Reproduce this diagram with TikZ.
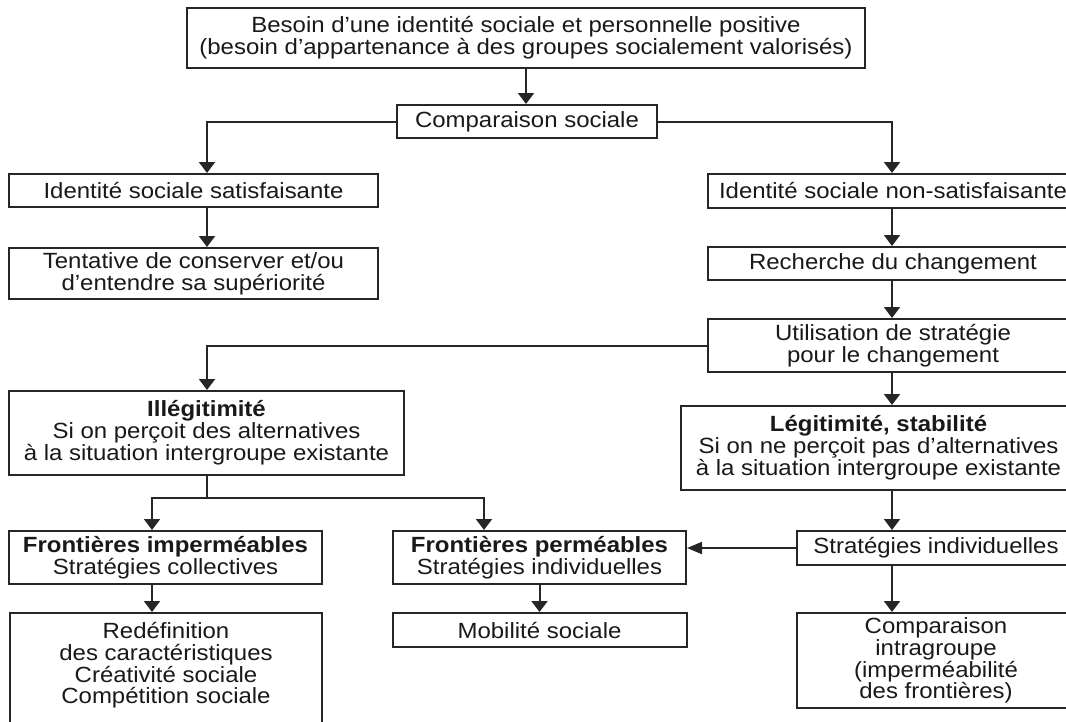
\documentclass[tikz,border=0pt]{standalone}
\usepackage{fontspec}
\setmainfont{Liberation Sans}[FakeStretch=1.09]
\usetikzlibrary{arrows.meta}
\tikzset{basic/.style={draw=black!85,line width=2pt,fill=white,
                       text=black!90,align=center,inner sep=0pt}}
\tikzset{boxsize/.style 2 args={minimum width=#1pt,minimum height=#2pt}}
\tikzset{link/.style={draw=black!85,line width=2pt,-{Triangle[length=11pt,width=16pt]}}}
\tikzset{hlink/.style={link,-{Triangle[length=15pt,width=12pt]}}}
\tikzset{plain/.style={draw=black!85,line width=2pt}}

\begin{document}
\begin{tikzpicture}[x=1pt,y=-1pt,font=\fontsize{22pt}{21.8pt}\selectfont]

    \useasboundingbox (0,0) rectangle (1066,721);
    \clip (0,0) rectangle (1066,721);

    % columns of the arrows
    \coordinate (lc) at (207,0);
    \coordinate (rc) at (892,0);
    \coordinate (bl) at (152,0);
    \coordinate (br) at (484,0);

    % top
    \node[basic,boxsize={678}{60}] (need) at (526,38)
        {Besoin d'une identité sociale et personnelle positive\\(besoin d'appartenance à des groupes socialement valorisés)};
    \node[basic,boxsize={260}{33}] (comp) at (527,121.5) {Comparaison sociale};

    % left column
    \node[basic,boxsize={369}{33}] (satis) at (193.5,190.5) {Identité sociale satisfaisante};
    \node[basic,boxsize={369}{51}] (tent) at (193.5,273.5)
        {Tentative de conserver et/ou\\d'entendre sa supériorité};

    % right column
    \node[basic,boxsize={370}{34}] (nonsat) at (893,191) {Identité sociale non-satisfaisante};
    \node[basic,boxsize={370}{33}] (rech) at (893,263.5) {Recherche du changement};
    \node[basic,boxsize={370}{53}] (util) at (893,345.5)
        {Utilisation de stratégie\\pour le changement};

    % legitimity
    \node[basic,boxsize={395}{84}] (illeg) at (206.5,433)
        {\textbf{Illégitimité}\\Si on perçoit des alternatives\\à la situation intergroupe existante};
    \node[basic,boxsize={395}{84}] (legit) at (878.5,448)
        {\textbf{Légitimité, stabilité}\\Si on ne perçoit pas d'alternatives\\à la situation intergroupe existante};

    % frontiers
    \node[basic,boxsize={313}{53}] (imperm) at (165.5,557.5)
        {\textbf{Frontières imperméables}\\Stratégies collectives};
    \node[basic,boxsize={293}{53}] (perm) at (539.5,557.5)
        {\textbf{Frontières perméables}\\Stratégies individuelles};
    \node[basic,boxsize={278}{34}] (strat) at (936,548) {Stratégies individuelles};

    % bottom
    \node[basic,boxsize={312}{122}] (redef) at (166,674)
        {Redéfinition\\des caractéristiques\\Créativité sociale\\Compétition sociale\\\mbox{}};
    \node[basic,boxsize={294}{34}] (mob) at (539.5,630) {Mobilité sociale};
    \node[basic,boxsize={278}{95}] (intra) at (936,660.5)
        {Comparaison\\intragroupe\\(imperméabilité\\des frontières)};

    % arrows
    \draw[link] (need.south) -- (need.south |- comp.north);
    \draw[link] (comp.west) -| (satis.north -| lc);
    \draw[link] (comp.east) -| (nonsat.north -| rc);
    \draw[link] (satis.south -| lc) -- (tent.north -| lc);
    \draw[link] (nonsat.south -| rc) -- (rech.north -| rc);
    \draw[link] (rech.south -| rc) -- (util.north -| rc);
    \draw[link] (util.west) -| (illeg.north -| lc);
    \draw[link] (util.south -| rc) -- (legit.north -| rc);
    \draw[link] (legit.south -| rc) -- (strat.north -| rc);
    \draw[link] (strat.south -| rc) -- (intra.north -| rc);
    \draw[hlink] (strat.west) -- (strat.west -| perm.east);

    \draw[plain] (illeg.south) -- ++(0,22) coordinate (split);
    \draw[link] (split) -| (imperm.north -| bl);
    \draw[link] (split) -| (perm.north -| br);
    \draw[link] (imperm.south -| bl) -- (redef.north -| bl);
    \draw[link] (perm.south) -- (mob.north);
\end{tikzpicture}
\end{document}
